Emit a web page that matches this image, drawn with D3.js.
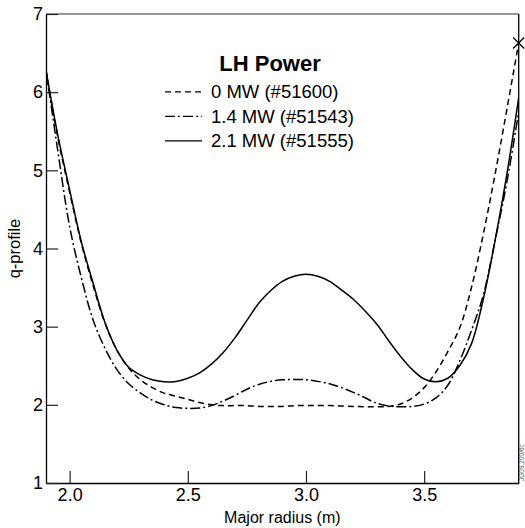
<!DOCTYPE html>
<html><head><meta charset="utf-8">
<script src="https://cdn.jsdelivr.net/npm/d3@7"></script>
<style>body{margin:0;background:#fff}svg{display:block}text{font-family:"Liberation Sans",Arial,sans-serif;fill:#000}</style>
</head><body>
<script>
const radius = [1.9,1.95,2.0,2.05,2.1,2.15,2.2,2.25,2.3,2.35,2.4,2.45,2.5,2.55,2.6,2.65,2.7,2.75,2.8,2.85,2.9,2.95,3.0,3.05,3.1,3.15,3.2,3.25,3.3,3.35,3.4,3.45,3.5,3.55,3.6,3.65,3.7,3.75,3.8,3.85,3.9];
const q0MW  = [6.28,5.42,4.72,4.06,3.52,3.04,2.70,2.47,2.32,2.22,2.15,2.11,2.07,2.03,2.00,1.99,1.99,1.99,1.98,1.98,1.98,1.99,1.99,1.99,1.99,1.985,1.98,1.975,1.975,1.98,2.01,2.09,2.22,2.42,2.68,2.98,3.50,4.18,4.95,5.78,6.63];
const q14MW = [6.28,5.25,4.28,3.62,3.08,2.72,2.45,2.27,2.15,2.06,2.00,1.965,1.955,1.96,1.99,2.05,2.12,2.20,2.26,2.30,2.32,2.325,2.32,2.30,2.27,2.22,2.16,2.09,2.02,1.985,1.975,1.98,2.01,2.09,2.25,2.56,2.95,3.40,4.10,4.85,5.75];
const q21MW = [6.28,5.45,4.75,4.08,3.55,3.05,2.70,2.48,2.38,2.32,2.295,2.30,2.34,2.41,2.52,2.67,2.86,3.08,3.30,3.46,3.58,3.645,3.67,3.645,3.58,3.47,3.35,3.20,3.03,2.82,2.62,2.45,2.33,2.295,2.34,2.50,2.78,3.35,4.10,4.95,5.93];
const xTicks = [2.0,2.5,3.0,3.5];
const yTicks = [1,2,3,4,5,6,7];
const seriesNames = ["0 MW (#51600)","1.4 MW (#51543)","2.1 MW (#51555)"];
const seriesDash = ["6,4","10,3,2,3",null];
const marker = {r:3.9, q:6.63};

const W=525,H=528, L=46, R=518.7, T=14, B=483;
const svg=d3.select("body").append("svg").attr("width",W).attr("height",H);
const x=d3.scaleLinear().domain([1.9,3.9]).range([L,R]);
const y=d3.scaleLinear().domain([1,7]).range([B,T]);

svg.append("defs").append("clipPath").attr("id","clip").append("rect").attr("x",L).attr("y",T).attr("width",R-L).attr("height",B-T);

// frame
svg.append("line").attr("x1",L).attr("x2",R).attr("y1",T).attr("y2",T).attr("stroke","#777").attr("stroke-width",1.3);
svg.append("line").attr("x1",R).attr("x2",R).attr("y1",T).attr("y2",B).attr("stroke","#000").attr("stroke-width",1.3);

const xAx=svg.append("g").attr("transform",`translate(0,${B})`).call(d3.axisBottom(x).tickValues(xTicks).tickFormat(d3.format(".1f")).tickSizeInner(-12).tickSizeOuter(0).tickPadding(5.5));
const yAx=svg.append("g").attr("transform",`translate(${L},0)`).call(d3.axisLeft(y).tickValues(yTicks).tickFormat(d3.format("d")).tickSizeInner(-12).tickSizeOuter(0).tickPadding(3));
[xAx,yAx].forEach(g=>{g.select(".domain").attr("stroke","#000").attr("stroke-width",1.3);g.selectAll(".tick line").attr("stroke","#222").attr("stroke-width",1.2);g.selectAll("text").attr("font-size",18).attr("font-family","Liberation Sans, Arial, sans-serif").attr("fill","#000");});

svg.append("text").attr("x",(L+R)/2).attr("y",522.5).attr("text-anchor","middle").attr("font-size",16).text("Major radius (m)");
svg.append("text").attr("transform",`translate(20,${(T+B)/2}) rotate(-90)`).attr("text-anchor","middle").attr("font-size",16.5).text("q-profile");

const data=[q0MW,q14MW,q21MW];
const line=d3.line().x((d,i)=>x(radius[i])).y(d=>y(d)).curve(d3.curveCatmullRom.alpha(0.5));
const g=svg.append("g").attr("clip-path","url(#clip)");
data.forEach((s,k)=>{
  g.append("path").attr("d",line(s)).attr("fill","none").attr("stroke","#000").attr("stroke-width",1.5).attr("stroke-dasharray",seriesDash[k]);
});
// marker
const mx=x(marker.r), my=y(marker.q), ms=5.5;
svg.append("path").attr("d",`M${mx-ms},${my-ms}L${mx+ms},${my+ms}M${mx-ms},${my+ms}L${mx+ms},${my-ms}`).attr("stroke","#000").attr("stroke-width",1.3).attr("fill","none");

// legend
svg.append("text").attr("x",270).attr("y",70.5).attr("text-anchor","middle").attr("font-size",22).attr("font-weight","bold").text("LH Power");
seriesNames.forEach((n,k)=>{
  const by=98.3+k*24.5;
  svg.append("line").attr("x1",165).attr("x2",202).attr("y1",by-6.5).attr("y2",by-6.5).attr("stroke","#000").attr("stroke-width",1.3).attr("stroke-dasharray",seriesDash[k]);
  svg.append("text").attr("x",211).attr("y",by).attr("font-size",18.5).text(n);
});
// figure id
svg.append("text").attr("transform",`translate(523.5,481) rotate(-90)`).attr("font-size",6.5).attr("fill","#555").style("fill","#555").text("JG09.200/6c");
</script>
</body></html>
